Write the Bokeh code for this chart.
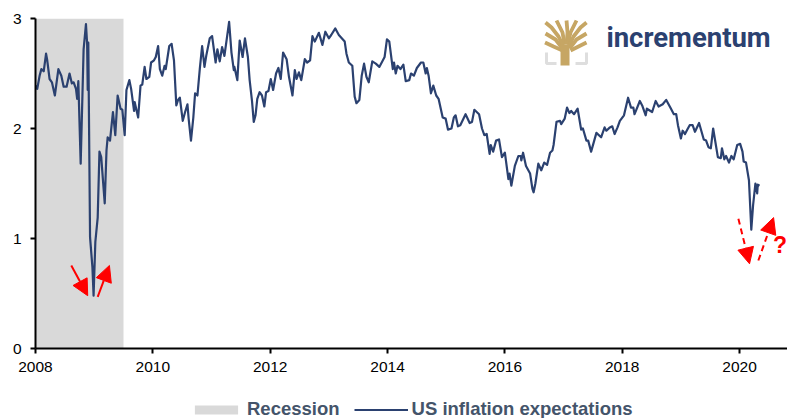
from bokeh.plotting import figure
from bokeh.layouts import column
from bokeh.models import (Range1d, Legend, LegendItem, Label, Arrow, NormalHead, FixedTicker)
from bokeh.embed import file_html
from bokeh.resources import INLINE

years = [2008.00,2008.03,2008.07,2008.10,2008.14,2008.18,2008.20,2008.24,2008.28,2008.33,2008.39,2008.44,2008.48,2008.53,2008.58,2008.62,2008.65,2008.69,2008.71,2008.73,2008.77,
2008.82,2008.86,2008.88,2008.89,2008.90,2008.93,2008.97,2008.99,2009.02,2009.06,2009.09,2009.12,2009.18,2009.21,2009.23,2009.27,2009.32,2009.36,2009.40,2009.45,2009.48,2009.52,2009.55,2009.60,2009.63,2009.68,2009.69,2009.72,2009.75,2009.79,2009.82,2009.86,2009.89,2009.94,2009.97,
2010.02,2010.05,2010.09,2010.12,2010.16,2010.20,2010.22,2010.28,2010.32,2010.36,2010.40,2010.43,2010.46,2010.51,2010.55,2010.59,2010.61,2010.65,2010.69,2010.72,2010.76,2010.80,2010.84,2010.88,2010.91,2010.97,
2011.01,2011.07,2011.10,2011.14,2011.18,2011.22,2011.30,2011.34,2011.38,2011.39,2011.44,2011.48,2011.53,2011.57,2011.62,2011.65,2011.69,2011.72,2011.75,2011.78,2011.82,2011.86,2011.90,2011.93,2011.97,
2012.01,2012.05,2012.10,2012.14,2012.18,2012.22,2012.28,2012.32,2012.38,2012.42,2012.45,2012.49,2012.53,2012.59,2012.63,2012.68,2012.72,2012.76,2012.83,2012.89,2012.94,
2013.00,2013.04,2013.11,2013.17,2013.27,2013.30,2013.34,2013.40,2013.44,2013.47,2013.52,2013.56,2013.60,2013.64,2013.68,2013.74,2013.80,2013.86,2013.91,2013.95,2013.99,
2014.03,2014.09,2014.11,2014.14,2014.17,2014.22,2014.27,2014.31,2014.37,2014.40,2014.45,2014.50,2014.57,2014.61,2014.65,2014.67,2014.70,2014.74,2014.78,2014.83,2014.87,2014.94,2014.99,
2015.03,2015.09,2015.13,2015.16,2015.20,2015.24,2015.33,2015.40,2015.44,2015.48,2015.56,2015.61,2015.65,2015.69,2015.74,2015.76,2015.80,2015.85,2015.90,2015.95,
2016.00,2016.06,2016.08,2016.11,2016.17,2016.23,2016.27,2016.28,2016.31,2016.36,2016.43,2016.47,2016.49,2016.52,2016.57,2016.62,2016.67,2016.72,2016.77,2016.81,2016.83,2016.88,2016.94,2016.96,
2017.02,2017.06,2017.10,2017.13,2017.18,2017.24,2017.30,2017.33,2017.39,2017.42,2017.47,2017.56,2017.64,2017.70,2017.73,2017.79,2017.83,2017.87,2017.92,2017.96,
2018.03,2018.10,2018.15,2018.19,2018.21,2018.24,2018.30,2018.34,2018.40,2018.42,2018.51,2018.57,2018.62,2018.69,2018.75,2018.82,2018.88,2018.92,2018.95,
2019.00,2019.03,2019.07,2019.11,2019.15,2019.20,2019.24,2019.31,2019.39,2019.43,2019.47,2019.51,2019.55,2019.63,2019.68,2019.70,2019.74,2019.77,2019.82,2019.86,2019.90,2019.96,
2020.01,2020.05,2020.07,2020.11,2020.16,2020.20,2020.23,2020.27,2020.30,2020.31,2020.34]

expectations = [2.39,2.36,2.48,2.54,2.52,2.68,2.62,2.45,2.42,2.30,2.54,2.48,2.38,2.38,2.50,2.41,2.42,2.36,2.27,2.43,1.68,
2.72,2.95,2.77,2.35,2.78,1.01,0.74,0.48,0.97,1.19,1.79,1.74,1.32,1.80,1.92,1.89,2.15,1.94,2.30,2.18,2.17,1.94,2.35,2.44,2.36,2.16,2.24,2.17,2.10,2.39,2.40,2.56,2.45,2.47,2.60,
2.62,2.65,2.75,2.54,2.48,2.57,2.54,2.75,2.77,2.62,2.21,2.26,2.28,2.07,2.15,2.22,2.09,1.89,2.10,2.32,2.30,2.54,2.75,2.56,2.66,2.82,
2.84,2.60,2.72,2.61,2.74,2.66,2.97,2.69,2.53,2.56,2.44,2.80,2.65,2.82,2.65,2.44,2.25,2.06,2.12,2.27,2.33,2.30,2.20,2.33,2.34,
2.45,2.35,2.50,2.55,2.45,2.69,2.63,2.47,2.30,2.53,2.45,2.51,2.44,2.63,2.60,2.62,2.84,2.79,2.87,2.76,2.88,
2.82,2.85,2.91,2.85,2.79,2.68,2.60,2.57,2.29,2.23,2.26,2.48,2.59,2.47,2.42,2.61,2.59,2.56,2.61,2.65,2.81,
2.79,2.54,2.60,2.50,2.57,2.54,2.58,2.43,2.44,2.50,2.48,2.55,2.60,2.60,2.50,2.55,2.48,2.32,2.39,2.30,2.27,2.10,2.09,
1.99,2.00,2.10,2.12,2.02,2.03,2.13,2.05,2.06,2.17,2.13,2.00,1.94,1.95,1.77,1.85,1.79,1.89,1.90,1.74,
1.78,1.54,1.59,1.48,1.66,1.75,1.75,1.71,1.78,1.66,1.59,1.45,1.42,1.50,1.68,1.62,1.69,1.67,1.78,1.80,1.85,2.06,2.07,2.04,
2.09,2.19,2.14,2.16,2.13,2.18,1.99,2.00,1.89,1.89,1.79,1.96,1.92,2.01,1.98,2.01,2.02,1.95,2.01,2.07,
2.12,2.28,2.19,2.19,2.13,2.17,2.25,2.21,2.12,2.18,2.15,2.25,2.20,2.22,2.26,2.19,2.13,2.13,2.03,
1.91,1.98,1.95,1.99,2.03,2.03,1.97,2.05,1.90,1.89,1.83,1.82,2.00,1.74,1.73,1.82,1.72,1.75,1.69,1.75,1.72,1.85,
1.86,1.79,1.70,1.69,1.53,1.08,1.30,1.50,1.41,1.49,1.48]

recession_start = [2008.0]
recession_end = [2009.5]
x_ticks = [2008, 2010, 2012, 2014, 2016, 2018, 2020]
y_ticks = [0, 1, 2, 3]

NAVY = "#2B4170"
RED = "#FF0000"
GOLD = "#C6A664"
GREY = "#D9D9D9"

p = figure(width=787, height=378, output_backend="svg", toolbar_location=None,
           x_range=Range1d(2008, 2020.817), y_range=Range1d(0, 3),
           min_border_left=35, min_border_right=0, min_border_top=18, min_border_bottom=30)
p.outline_line_color = None
p.grid.visible = False

for ax, ticks in ((p.xaxis[0], x_ticks), (p.yaxis[0], y_ticks)):
    ax.ticker = FixedTicker(ticks=ticks)
    ax.axis_line_color = "black"
    ax.axis_line_width = 2
    ax.major_tick_line_color = "black"
    ax.major_tick_line_width = 2
    ax.major_tick_in = 0
    ax.major_tick_out = 5
    ax.minor_tick_line_color = None
    ax.major_label_text_font = "Liberation Sans"
    ax.major_label_text_color = "black"
    ax.major_label_text_font_size = "15.5px"
p.xaxis[0].major_label_standoff = 8
p.yaxis[0].major_label_standoff = 9

p.quad(left=recession_start, right=recession_end, bottom=[0], top=[3],
       fill_color=GREY, line_color=None)
p.line(years, expectations, line_color=NAVY, line_width=2.2, line_join="round")

for x0, y0, x1, y1, dash in [(2008.61, 0.755, 2008.89, 0.48, "solid"),
                             (2009.06, 0.47, 2009.26, 0.755, "solid"),
                             (2019.98, 1.18, 2020.17, 0.77, "6 4"),
                             (2020.32, 0.80, 2020.58, 1.19, "6 4")]:
    p.add_layout(Arrow(x_start=x0, y_start=y0, x_end=x1, y_end=y1,
                       line_color=RED, line_width=2, line_dash=dash,
                       end=NormalHead(size=16, fill_color=RED, line_color=RED)))

p.add_layout(Label(x=2020.57, y=0.827, text="?", text_color=RED,
                   text_font="Liberation Sans", text_font_style="bold", text_font_size="23px"))
p.add_layout(Label(x=2017.73, y=2.68, text="incrementum", text_color=NAVY,
                   text_font="Roboto", text_font_style="bold", text_font_size="27.5px"))

# Decorative logo mark, placed by pixel position on the page
def lx(px):
    return 2008 + (px - 35) / 58.67
def ly(py):
    return (348 - py) / 110

branches = [[(562,50),(553,46),(544.5,42)],
            [(562,48),(555,39),(545,33)],
            [(563,46),(558,36),(551,27),(545,22)],
            [(564,44),(562,32),(556,20)],
            [(566,44),(567,32),(566,20)],
            [(567,44),(570,32),(576,20)],
            [(568,46),(573,36),(580,27),(586,22)],
            [(569,48),(576,39),(586,33)],
            [(570,50),(578,46),(586,42)]]
p.multi_line([[lx(a) for a, _ in b] for b in branches], [[ly(c) for _, c in b] for b in branches],
             line_color=GOLD, line_width=3.8)
brackets = [[(546,52),(546,63),(556,63)], [(586,52),(586,63),(575,63)]]
p.multi_line([[lx(a) for a, _ in b] for b in brackets], [[ly(c) for _, c in b] for b in brackets],
             line_color="#DEDEDE", line_width=3)
p.line([lx(564.5), lx(564.5)], [ly(44), ly(65)], line_color=GOLD, line_width=9)

# Legend strip under the chart; its two source glyphs sit outside the strip's range
k = figure(width=787, height=40, output_backend="svg", toolbar_location=None,
           x_range=Range1d(0, 1), y_range=Range1d(0, 1),
           min_border_left=0, min_border_right=0, min_border_top=0, min_border_bottom=0)
k.outline_line_color = None
k.grid.visible = False
k.axis.visible = False
rec = k.quad(left=[-3], right=[-2], bottom=[-3], top=[-2], fill_color=GREY, line_color=None)
ln = k.line([-3, -2], [-3, -2], line_color=NAVY, line_width=2.2)
legend = Legend(items=[LegendItem(label="Recession", renderers=[rec]),
                       LegendItem(label="US inflation expectations", renderers=[ln])],
                orientation="horizontal", location=(154, -2), padding=0, margin=0,
                spacing=14, glyph_width=54, glyph_height=11, label_standoff=4,
                background_fill_alpha=0, border_line_color=None,
                label_text_font="Liberation Sans", label_text_font_style="bold",
                label_text_font_size="18.5px", label_text_color="#44546A")
k.add_layout(legend)

page = column(p, k, spacing=0)
open("out.html", "w").write(file_html(page, INLINE))
